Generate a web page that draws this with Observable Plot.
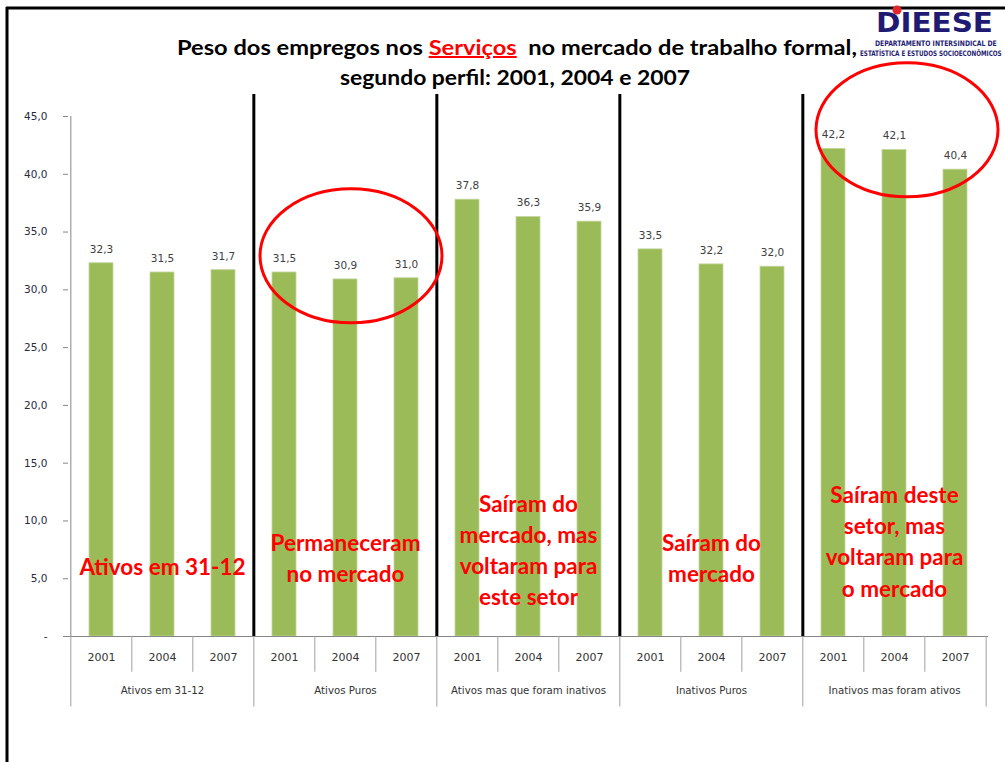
<!DOCTYPE html>
<html><head><meta charset="utf-8">
<script src="https://cdn.jsdelivr.net/npm/d3@7"></script>
<script src="https://cdn.jsdelivr.net/npm/@observablehq/plot@0.6"></script>
<style>
html,body{margin:0;padding:0;background:#fff;}
#wrap{position:relative;width:1005px;height:762px;overflow:hidden;background:#fff;}
#wrap > svg{position:absolute;left:0;top:0;}
</style></head><body><div id="wrap"></div>
<script>
// ---- data ----
const groups = ["Ativos em 31-12", "Ativos Puros", "Ativos mas que foram inativos", "Inativos Puros", "Inativos mas foram ativos"];
const years = ["2001", "2004", "2007"];
const values2001 = [32.3, 31.5, 37.8, 33.5, 42.2];
const values2004 = [31.5, 30.9, 36.3, 32.2, 42.1];
const values2007 = [31.7, 31.0, 35.9, 32.0, 40.4];
const yTicks = [0, 5, 10, 15, 20, 25, 30, 35, 40, 45];
const notes = [
  "Ativos em 31-12",
  "Permaneceram\nno mercado",
  "Saíram do\nmercado, mas\nvoltaram para\neste setor",
  "Saíram do\nmercado",
  "Saíram deste\nsetor, mas\nvoltaram para\no mercado"
];
const titleStart = "Peso dos empregos nos ";
const titleHighlight = "Serviços";
const titleEnd = "  no mercado de trabalho formal,";
const titleLine2 = "segundo perfil: 2001, 2004 e 2007";

// ---- build table ----
const series = [values2001, values2004, values2007];
const data = groups.flatMap((g, gi) => years.map((y, yi) => ({group: g, year: y, key: g + "|" + y, value: series[yi][gi]})));
const firstKeys = groups.map(g => g + "|" + years[0]);
const midKeys = groups.map(g => g + "|" + years[1]);
const lastKey = groups[groups.length - 1] + "|" + years[years.length - 1];

const W = 1005, H = 762, ml = 68, mr = 17, mt = 116, mb = 126;
const step = (W - ml - mr) / data.length;
const fmt = v => v.toFixed(1).replace(".", ",");
const axisGray = "#868686";
const small = "DejaVu Sans, Verdana, sans-serif";

const plot = Plot.plot({
  width: W, height: H,
  marginLeft: ml, marginRight: mr, marginTop: mt, marginBottom: mb,
  style: {fontFamily: small, background: "transparent", overflow: "visible"},
  x: {type: "band", domain: data.map(d => d.key), paddingInner: 0.6, paddingOuter: 0.3, axis: null},
  y: {domain: [0, 45], axis: null},
  marks: [
    Plot.barY(data, {x: "key", y: "value", fill: "#9BBB59", stroke: "#C3D69B", strokeWidth: 0.8}),
    Plot.text(data, {x: "key", y: "value", text: d => fmt(d.value), dy: -14, fontSize: 10.5, fill: "#404040"}),
    Plot.axisY({ticks: yTicks, tickFormat: d => d === 0 ? "-" : fmt(d), tickSize: 5, tickPadding: 16, stroke: axisGray, fill: "#2a2a40", fontSize: 10.5, label: null}),
    // axis lines
    Plot.ruleX([firstKeys[0]], {dx: -step / 2, y1: 0, y2: 45, stroke: axisGray}),
    Plot.ruleY([0], {stroke: axisGray}),
    // category dividers below the axis
    Plot.ruleX(data.filter(d => d.year !== years[0]), {x: "key", dx: -step / 2, y1: 0, y2: -3.1, stroke: "#a0a0a0"}),
    Plot.ruleX(firstKeys, {dx: -step / 2, y1: 0, y2: -6.1, stroke: "#a0a0a0"}),
    Plot.ruleX([lastKey], {dx: step / 2, y1: 0, y2: -6.1, stroke: "#a0a0a0"}),
    // black separators between groups
    Plot.ruleX(firstKeys.slice(1), {dx: -step / 2, y1: 0, y2: 46.9, stroke: "#000", strokeWidth: 3}),
    // year labels and group labels
    Plot.text(data, {x: "key", text: "year", frameAnchor: "bottom", dy: 24, fontSize: 11, fill: "#333"}),
    Plot.text(groups, {x: (g, i) => midKeys[i], text: d => d, frameAnchor: "bottom", dy: 57, fontSize: 10.2, fill: "#333"}),
    // red annotations
    Plot.text(groups, {
      x: (g, i) => midKeys[i], y: [6.2, 6.9, 7.6, 6.9, 8.35], text: notes,
      lineAnchor: "middle", lineHeight: 1.38, fontSize: 22.5, fontWeight: "bold",
      fontFamily: "Lato, sans-serif", fill: "#FF0000"
    })
  ]
});
document.getElementById("wrap").appendChild(plot);

// red ellipses placed via the plot's scales
const sx = plot.scale("x"), sy = plot.scale("y");
const cx = k => sx.apply(k) + sx.bandwidth / 2;
const svg = d3.select(plot);
[[midKeys[1], 6, 32.9], [midKeys[4], 13, 43.8]].forEach(([k, off, yv]) => {
  svg.append("ellipse")
    .attr("cx", cx(k) + off).attr("cy", sy.apply(yv))
    .attr("rx", 91).attr("ry", 67)
    .attr("fill", "none").attr("stroke", "#FF0000").attr("stroke-width", 3);
});

// overlay: frame, title, logo
const ov = d3.select("#wrap").append("svg").attr("width", W).attr("height", H).style("pointer-events", "none");
ov.append("line").attr("x1", 7).attr("x2", 7).attr("y1", 7).attr("y2", H).attr("stroke", "#000").attr("stroke-width", 3);
ov.append("line").attr("x1", 6).attr("x2", W).attr("y1", 8).attr("y2", 8).attr("stroke", "#000").attr("stroke-width", 3);

const t1 = ov.append("text").attr("x", 517).attr("y", 55).attr("text-anchor", "middle")
  .attr("font-family", "Lato, sans-serif").attr("font-weight", "bold").attr("font-size", 20)
  .attr("fill", "#000").style("white-space", "pre")
  .attr("textLength", 680).attr("lengthAdjust", "spacingAndGlyphs");
t1.append("tspan").text(titleStart);
t1.append("tspan").attr("fill", "#FF0000").attr("text-decoration", "underline").text(titleHighlight);
t1.append("tspan").text(titleEnd);
ov.append("text").attr("x", 515).attr("y", 85).attr("text-anchor", "middle")
  .attr("font-family", "Lato, sans-serif").attr("font-weight", "bold").attr("font-size", 20)
  .attr("fill", "#000").attr("textLength", 350).attr("lengthAdjust", "spacingAndGlyphs")
  .text(titleLine2);

// logo
const navy = "#1f1b72";
ov.append("rect").attr("x", 858).attr("y", 10).attr("width", 147).attr("height", 48).attr("fill", "#fff");
ov.append("text").attr("x", 876).attr("y", 32).attr("font-family", "DejaVu Sans, sans-serif").attr("font-weight", "bold")
  .attr("font-size", 26).attr("fill", navy).attr("textLength", 117).attr("lengthAdjust", "spacingAndGlyphs").text("DIEESE");
ov.append("circle").attr("cx", 897).attr("cy", 10).attr("r", 4.5).attr("fill", "#e3262b");
// small logo lines: condensed horizontally with a transform so their real box fits the page
function logoLine(txt, x, y, targetW) {
  const g = ov.append("g");
  const t = g.append("text").attr("x", 0).attr("y", 0)
    .attr("font-family", "DejaVu Sans Condensed, DejaVu Sans, sans-serif").attr("font-weight", "bold")
    .attr("font-size", 7.5).attr("fill", navy).text(txt);
  const len = t.node().getComputedTextLength() || targetW;
  g.attr("transform", `translate(${x},${y}) scale(${targetW / len},1)`);
}
logoLine("DEPARTAMENTO INTERSINDICAL DE", 875, 46, 122);
logoLine("ESTATÍSTICA E ESTUDOS SOCIOECONÔMICOS", 860, 56, 142);
</script>
</body></html>
